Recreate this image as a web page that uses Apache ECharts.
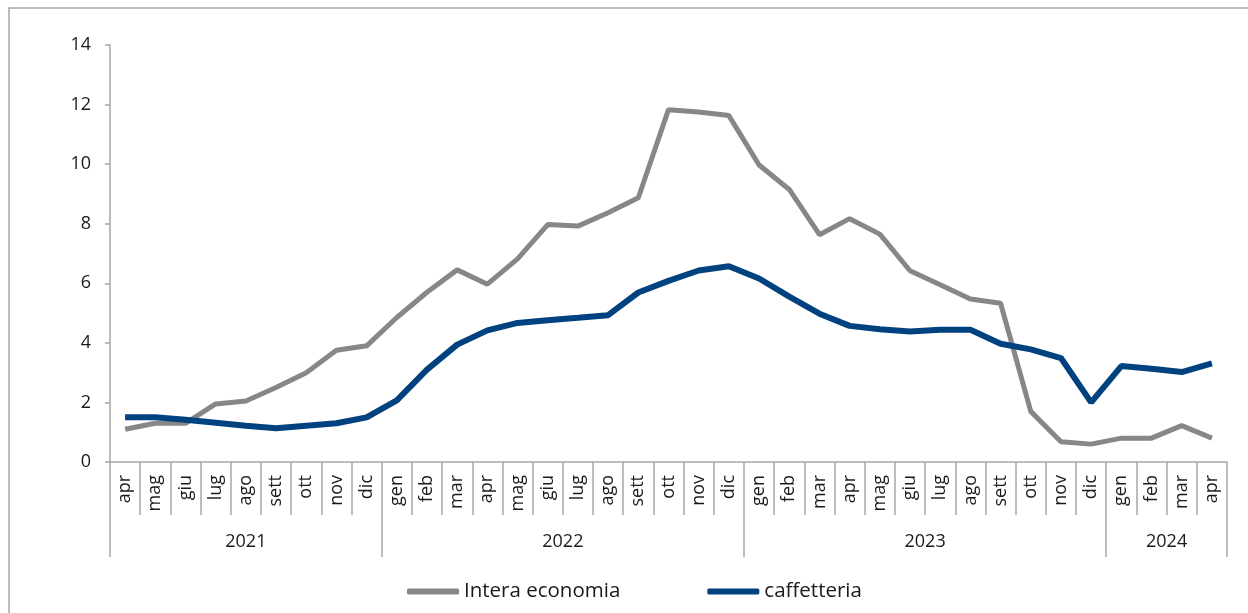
<!DOCTYPE html>
<html>
<head>
<meta charset="utf-8">
<script src="https://cdn.jsdelivr.net/npm/echarts@6/dist/echarts.min.js"></script>
<style>
    html,body{margin:0;padding:0;background:#fff;}
    #chart{width:1248px;height:613px;}
</style>
</head>
<body>
<div id="chart"></div>
<script>
// mesi da apr 2021 ad apr 2024
var months=['apr','mag','giu','lug','ago','sett','ott','nov','dic',
    'gen','feb','mar','apr','mag','giu','lug','ago','sett','ott','nov','dic',
    'gen','feb','mar','apr','mag','giu','lug','ago','sett','ott','nov','dic',
    'gen','feb','mar','apr'];
var years=['2021','2022','2023','2024'];
var monthsPerYear=[9,12,12,4];
var yTicks=[0,2,4,6,8,10,12,14];

var interaEconomia=[1.1,1.3,1.3,1.95,2.05,2.5,3.0,3.75,3.9,
    4.85,5.7,6.45,5.97,6.82,7.97,7.92,8.37,8.87,11.83,11.75,11.63,
    9.97,9.15,7.63,8.17,7.65,6.42,5.95,5.47,5.33,1.7,0.68,0.6,
    0.8,0.8,1.22,0.8];
var caffetteria=[1.5,1.5,1.42,1.32,1.22,1.13,1.22,1.3,1.5,
    2.07,3.1,3.94,4.42,4.67,4.76,4.84,4.93,5.69,6.08,6.43,6.57,
    6.16,5.55,4.98,4.57,4.46,4.38,4.44,4.44,3.97,3.78,3.49,2.0,
    3.22,3.13,3.02,3.31];

window.onload=function(){
    var font='"Open Sans", "Noto Sans", sans-serif',
        axisColor='#a6a6a6',
        textColor='#1a1a1a';

    // confini e centri degli anni sull'asse (in mesi)
    var yearEdges=[0],
        yearCenters=[];
    monthsPerYear.map(function(n,i){
        yearCenters.push(yearEdges[i]+n/2);
        yearEdges.push(yearEdges[i]+n);
    });

    var chart=echarts.init(document.getElementById('chart'));
    chart.setOption({
        animation:false,
        graphic:[{
            type:'rect',
            shape:{x:9,y:8,width:1400,height:800},
            style:{fill:'none',stroke:axisColor,lineWidth:1.5},
            silent:true
        }],
        grid:{left:110,right:21,top:45,bottom:151,containLabel:false},
        legend:{
            left:402,
            top:576,
            icon:'roundRect',
            itemWidth:52,
            itemHeight:6,
            itemGap:87,
            textStyle:{fontFamily:font,fontSize:20.5,color:textColor},
            data:['Intera economia','caffetteria']
        },
        xAxis:[
            {
                type:'category',
                data:months,
                boundaryGap:true,
                axisLine:{lineStyle:{color:axisColor,width:1.5}},
                axisTick:{show:true,interval:0,length:53,lineStyle:{color:axisColor,width:1.5}},
                axisLabel:{
                    interval:0,
                    rotate:90,
                    margin:13,
                    fontFamily:font,
                    fontSize:18,
                    color:textColor
                },
                splitLine:{show:false}
            },
            {
                type:'value',
                position:'bottom',
                offset:0,
                min:0,
                max:months.length,
                axisLine:{show:false},
                axisTick:{
                    show:true,
                    customValues:yearEdges,
                    length:95,
                    lineStyle:{color:axisColor,width:1.5}
                },
                axisLabel:{
                    customValues:yearCenters,
                    margin:71,
                    fontFamily:font,
                    fontSize:18,
                    color:textColor,
                    formatter:function(v){
                        var i=yearCenters.indexOf(v);
                        return i>=0 ? years[i] : '';
                    }
                },
                splitLine:{show:false}
            }
        ],
        yAxis:{
            type:'value',
            min:yTicks[0],
            max:yTicks[yTicks.length-1],
            interval:2,
            axisLine:{show:true,lineStyle:{color:axisColor,width:1.5}},
            axisTick:{show:true,length:5,lineStyle:{color:axisColor,width:1.5}},
            axisLabel:{margin:19,fontFamily:font,fontSize:18,color:textColor},
            splitLine:{show:false}
        },
        series:[
            {
                name:'Intera economia',
                type:'line',
                data:interaEconomia,
                showSymbol:false,
                symbol:'none',
                lineStyle:{color:'#878787',width:5},
                itemStyle:{color:'#878787'}
            },
            {
                name:'caffetteria',
                type:'line',
                data:caffetteria,
                showSymbol:false,
                symbol:'none',
                lineStyle:{color:'#00427f',width:6},
                itemStyle:{color:'#00427f'}
            }
        ]
    });
};
</script>
</body>
</html>
